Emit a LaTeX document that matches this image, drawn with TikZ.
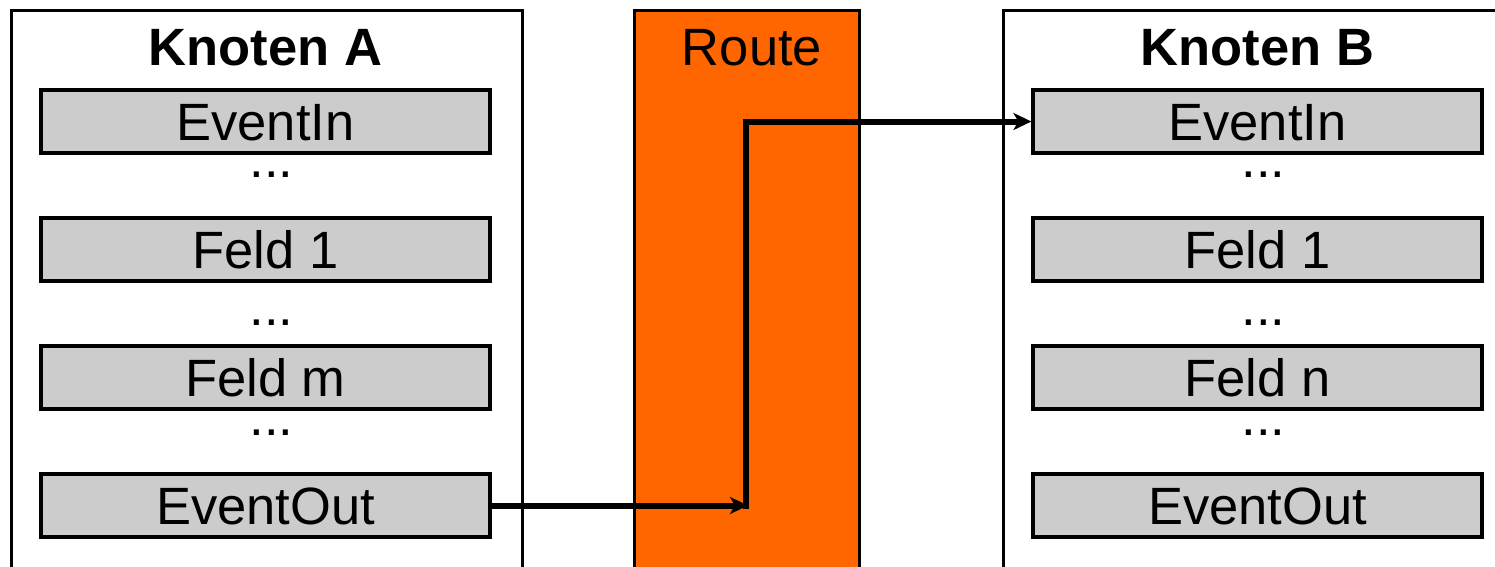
\documentclass[tikz,border=0pt]{standalone}
\usepackage{fontspec}
\setmainfont{Liberation Sans}
\usetikzlibrary{arrows.meta}
\begin{document}
\begin{tikzpicture}[x=1pt,y=-1pt,
  outerbox/.style={draw=black,line width=3pt,fill=white,inner sep=0pt},
  field/.style={draw=black,line width=3.2pt,fill=black!20,minimum width=449pt,minimum height=63pt,inner sep=0pt},
  lbl/.style={font=\fontsize{52.5}{60}\selectfont,anchor=base,inner sep=0pt},
  title/.style={font=\fontsize{52.5}{60}\selectfont\bfseries,anchor=base,inner sep=0pt},
  conn/.style={line width=6pt,-{Stealth[length=18pt,width=17pt,inset=5pt]}}]
\useasboundingbox (0,0) rectangle (1495,566);
\clip (0,0) rectangle (1495,566);
% outer boxes
\node[outerbox,minimum width=511pt,minimum height=600pt,anchor=north west] (ka) at (10,9) {};
\node[outerbox,fill={rgb,255:red,255;green,102;blue,0},minimum width=225pt,minimum height=600pt,anchor=north west] (rt) at (633,9) {};
\node[outerbox,minimum width=520pt,minimum height=600pt,anchor=north west] (kb) at (1002,9) {};
% titles
\node[title] (tka) at (265.5,65) {Knoten A};
\node[lbl] (trt) at (752,65) {Route};
\node[title] (tkb) at (1257.5,65) {Knoten B};
% fields A
\node[field] (ain) at (265.5,121.5) {};
\node[field] (af1) at (265.5,249.5) {};
\node[field] (afm) at (265.5,377.5) {};
\node[field] (aout) at (265.5,505.5) {};
\node[lbl] at (265.5,140) {EventIn};
\node[lbl] at (265.5,268) {Feld 1};
\node[lbl] at (265.5,396) {Feld m};
\node[lbl] at (265.5,524) {EventOut};
\node[lbl] (ad1) at (271.5,177) {...};
\node[lbl] (ad2) at (271.5,325) {...};
\node[lbl] (ad3) at (271.5,435) {...};
% fields B
\node[field] (bin) at (1257.5,121.5) {};
\node[field] (bf1) at (1257.5,249.5) {};
\node[field] (bfn) at (1257.5,377.5) {};
\node[field] (bout) at (1257.5,505.5) {};
\node[lbl] at (1257.5,140) {EventIn};
\node[lbl] at (1257.5,268) {Feld 1};
\node[lbl] at (1257.5,396) {Feld n};
\node[lbl] at (1257.5,524) {EventOut};
\node[lbl] (bd1) at (1263.5,177) {...};
\node[lbl] (bd2) at (1263.5,325) {...};
\node[lbl] (bd3) at (1263.5,435) {...};
% connectors
\coordinate (corner) at (748,505.5);
\coordinate (cornerv) at (746,508.5);
\draw[conn] (aout.east) -- (corner);
\draw[conn] (cornerv) |- (bin.west);
\end{tikzpicture}
\end{document}
